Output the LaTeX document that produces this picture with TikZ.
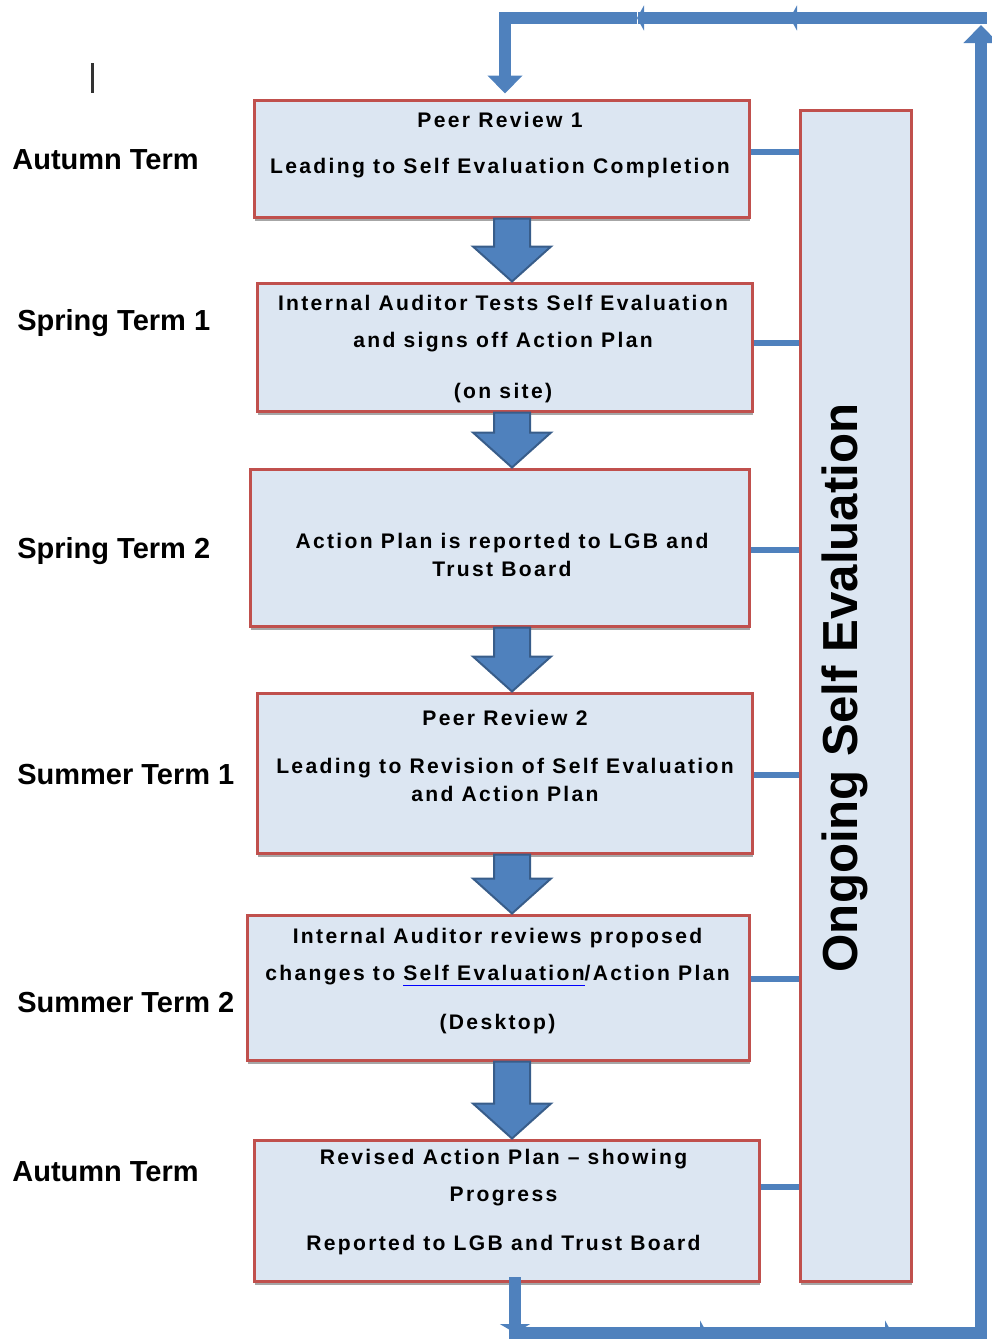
\documentclass[tikz,border=0pt]{standalone}
\usepackage{fontspec}
\setmainfont{Liberation Sans}
\usetikzlibrary{arrows.meta, calc, shadows, positioning}

\definecolor{boxfill}{HTML}{DCE6F2}
\definecolor{boxline}{HTML}{C0504D}
\definecolor{flowblue}{HTML}{4F81BD}
\definecolor{flowedge}{HTML}{385D8A}

% blue underline as in the source document
\newsavebox\markbox
\newcommand\spellmark[1]{\sbox\markbox{#1}\rlap{\textcolor{blue}{\rule[-0.5ex]{\wd\markbox}{0.9pt}}}\usebox\markbox}

\begin{document}
\begin{tikzpicture}[x=0.2mm, y=-0.2mm,
    termbox/.style={draw=boxline, line width=0.6mm, fill=boxfill, inner sep=0pt,
        drop shadow={shadow xshift=0.2mm, shadow yshift=-0.8mm, fill=black!35, opacity=1}},
    boxtext/.style={font=\fontsize{12}{16}\selectfont\bfseries\addfontfeature{LetterSpace=11},
        align=center, anchor=north, inner sep=0pt},
    termlabel/.style={font=\fontsize{16.5}{18}\selectfont\bfseries, anchor=west, inner sep=0pt},
    blockarrow/.style={fill=flowblue, draw=flowedge, line width=0.4mm, line join=miter},
    sidelink/.style={draw=flowblue, line width=1.2mm},
    loopline/.style={draw=flowblue, line width=2.4mm, line cap=rect},
    midtip/.style={-{Triangle[width=5mm, length=1.4mm]}},
    bigtip/.style={-{Triangle[width=6.8mm, length=3.6mm]}}]
    % Define dimensions
    \def\px{0.2mm}
    \useasboundingbox (0,0) rectangle (992,1339);

    % Term boxes
    \node[termbox, minimum width=495*\px, minimum height=117*\px] (b1) at (501.5,158.5) {};
    \node[termbox, minimum width=495*\px, minimum height=128*\px] (b2) at (504.5,347) {};
    \node[termbox, minimum width=499*\px, minimum height=157*\px] (b3) at (499.5,547.5) {};
    \node[termbox, minimum width=495*\px, minimum height=160*\px] (b4) at (504.5,773) {};
    \node[termbox, minimum width=502*\px, minimum height=145*\px] (b5) at (498,987.5) {};
    \node[termbox, minimum width=505*\px, minimum height=141*\px] (b6) at (506.5,1210.5) {};
    \node[termbox, minimum width=111*\px, minimum height=1171*\px] (bar) at (855.5,695.5) {};

    % Box texts
    \node[boxtext] (t1) at (500,112) {Peer Review 1\\[10pt]Leading to Self Evaluation Completion};
    \node[boxtext] (t2) at (503,295) {Internal Auditor Tests Self Evaluation\\[5pt]and signs off Action Plan\\[13pt](on site)};
    \node[boxtext] (t3) at (502,533) {Action Plan is reported to LGB and\\Trust Board};
    \node[boxtext] (t4) at (505,710) {Peer Review 2\\[11pt]Leading to Revision of Self Evaluation\\and Action Plan};
    \node[boxtext] (t5) at (497.5,928) {Internal Auditor reviews proposed\\[5pt]changes to \spellmark{Self Evaluation}/Action Plan\\[12pt](Desktop)};
    \node[boxtext] (t6) at (503.5,1149) {Revised Action Plan -- showing\\[5pt]Progress\\[12pt]Reported to LGB and Trust Board};

    \node[font=\fontsize{28}{30}\selectfont\bfseries, rotate=90] (ongoing) at (845,688) {Ongoing Self Evaluation};

    % Term labels
    \node[termlabel] (l1) at (12,160) {Autumn Term};
    \node[termlabel] (l2) at (17,323) {Spring Term 1};
    \node[termlabel] (l3) at (17,551) {Spring Term 2};
    \node[termlabel] (l4) at (17,775) {Summer Term 1};
    \node[termlabel] (l5) at (17,1003) {Summer Term 2};
    \node[termlabel] (l6) at (12,1172) {Autumn Term};

    % stray cursor mark
    \draw[line width=0.6mm, black!80] (92,63) -- (92,93);

    % Block arrows between the boxes
    \coordinate (ax) at (512,0);
    \foreach \a/\b in {b1/b2, b2/b3, b3/b4, b4/b5, b5/b6} {
        \coordinate (p) at (\a.south -| ax);
        \coordinate (q) at (\b.north -| ax);
        \draw[blockarrow] ($(p)+(-18,0)$) -- ($(q)+(-18,-35)$) -- ($(q)+(-39,-35)$) -- (q)
            -- ($(q)+(39,-35)$) -- ($(q)+(18,-35)$) -- ($(p)+(18,0)$) -- cycle;
    }

    % Links to the ongoing bar
    \foreach \b/\y in {b1/152, b2/343, b3/550, b4/775, b5/979, b6/1187} {
        \coordinate (yy) at (0,\y);
        \draw[sidelink] (\b.east |- yy) -- (bar.west |- yy);
    }

    % Loop back round to the start
    \coordinate (bl) at (515,1333);
    \coordinate (m1) at (707,1333);
    \coordinate (m2) at (892,1333);
    \coordinate (br) at (981,1333);
    \coordinate (tr) at (981,18);
    \coordinate (u1) at (790,18);
    \coordinate (u2) at (637,18);
    \coordinate (tl) at (505,18);
    \draw[loopline, -{Triangle[width=6mm, length=1.8mm]}] (b6.south -| bl) -- (bl);
    \draw[loopline, midtip] (bl) -- (m1);
    \draw[loopline, midtip] (m1) -- (m2);
    \draw[loopline] (m2) -- (br);
    \draw[loopline, bigtip, shorten >=1.4mm] (br) -- (tr);
    \draw[loopline, midtip] (tr) -- (u1);
    \draw[loopline, midtip] (u1) -- (u2);
    \draw[loopline, bigtip, shorten >=1mm, line cap=butt] (u2) -- (tl) -- (b1.north -| tl);
\end{tikzpicture}
\end{document}
